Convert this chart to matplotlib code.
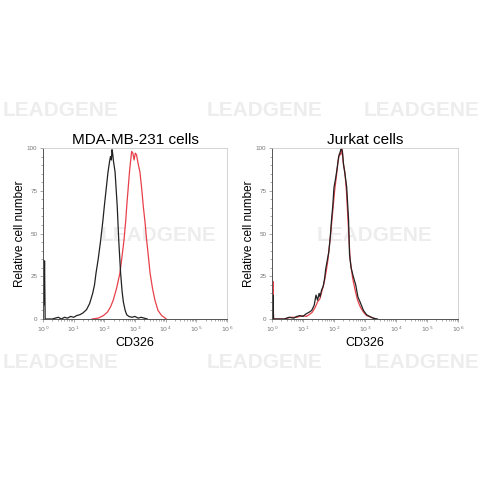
"""Flow cytometry histograms: CD326 staining on MDA-MB-231 and Jurkat cells."""

import numpy as np
import matplotlib
matplotlib.use('Agg')
import matplotlib.pyplot as plt
from matplotlib.ticker import FixedLocator, LogLocator, NullFormatter

plt.rcParams['font.family'] = ['Liberation Sans', 'DejaVu Sans']

# decade positions (log10 of CD326 intensity) and relative cell number
mda_iso_x = [0.0, 0.01, 0.02, 0.03, 0.04, 0.05, 0.07, 0.3, 0.5, 0.6, 0.7, 0.8, 0.9, 1.0,
             1.1, 1.2, 1.3, 1.42, 1.52, 1.62, 1.68, 1.73, 1.8, 1.88, 1.95, 2.0, 2.06,
             2.12, 2.17, 2.2, 2.23, 2.25, 2.27, 2.3, 2.35, 2.42, 2.47, 2.53, 2.58,
             2.62, 2.68, 2.73, 2.8, 2.9, 3.0, 3.1, 3.2, 3.3, 3.4]
mda_iso_y = [0, 35, 8, 32, 20, 34, 0, 0, 1, 0, 1, 0.5, 1.5, 1,
             2, 2.5, 3.5, 5.5, 9, 15, 20, 27, 35, 46, 57, 66, 76,
             86, 92, 95, 93, 99, 97, 92, 86, 66, 46, 27, 16,
             10, 5, 2.5, 1.5, 1, 1.5, 0.5, 1, 0.5, 0]

mda_cd326_x = [1.6, 1.8, 1.97, 2.1, 2.2, 2.29, 2.4, 2.51, 2.58, 2.64, 2.7, 2.73,
               2.78, 2.82, 2.86, 2.89, 2.93, 2.97, 3.01, 3.05, 3.1, 3.16, 3.22,
               3.27, 3.33, 3.38, 3.44, 3.49, 3.57, 3.65, 3.75, 3.87, 3.95, 4.02]
mda_cd326_y = [0, 0.5, 2, 4, 7, 11, 18, 27, 37, 46, 58, 66,
               77, 86, 93, 98, 97, 93, 97, 96, 91, 86, 76,
               66, 56, 46, 36, 27, 18, 11, 5, 2, 1, 0]

jur_iso_x = [0.0, 0.01, 0.02, 0.03, 0.05, 0.4, 0.55, 0.7, 0.8, 0.9, 1.0, 1.1, 1.2,
             1.28, 1.36, 1.42, 1.47, 1.52, 1.55, 1.6, 1.65, 1.7, 1.73, 1.78, 1.83,
             1.88, 1.92, 1.96, 2.0, 2.05, 2.1, 2.15, 2.19, 2.23, 2.27, 2.31, 2.36,
             2.41, 2.47, 2.5, 2.55, 2.62, 2.7, 2.77, 2.84, 2.95, 3.05, 3.15, 3.26, 3.4]
jur_iso_y = [0, 16, 5, 14, 0, 0, 1, 0.5, 1.5, 2, 1.5, 3, 4,
             5, 8, 14, 11, 15, 13, 17, 19, 24, 29, 34, 39,
             48, 58, 66, 77, 82, 88, 95, 97, 100, 98, 90, 84,
             77, 58, 38, 30, 25, 20, 13, 10, 5, 2.5, 1.5, 0.5, 0]

jur_cd326_x = [0.0, 0.01, 0.02, 0.03, 0.05, 0.4, 0.6, 0.8, 1.0, 1.1, 1.2, 1.3,
               1.4, 1.47, 1.55, 1.62, 1.68, 1.74, 1.8, 1.86, 1.92, 1.97, 2.02,
               2.08, 2.13, 2.18, 2.22, 2.26, 2.3, 2.35, 2.4, 2.46, 2.52, 2.6,
               2.68, 2.76, 2.85, 2.95, 3.05, 3.2, 3.35]
jur_cd326_y = [0, 27, 10, 22, 0, 0, 1, 1, 2, 1.5, 2.5, 4,
               7, 10, 12, 17, 21, 27, 34, 44, 55, 65, 75,
               84, 92, 97, 96, 100, 91, 86, 75, 55, 35, 24,
               17, 11, 7, 4, 2, 1, 0]

panels = [
    ('MDA-MB-231 cells', mda_iso_x, mda_iso_y, mda_cd326_x, mda_cd326_y),
    ('Jurkat cells', jur_iso_x, jur_iso_y, jur_cd326_x, jur_cd326_y),
]
axes_boxes = [[43 / 480, 161 / 480, 184 / 480, 171 / 480],
              [272 / 480, 161 / 480, 186 / 480, 171 / 480]]

fig = plt.figure(figsize=(4.8, 4.8), dpi=100)

# faint watermark rows
for (x, y, ha) in [(0.005, 0.77, 'left'), (0.43, 0.77, 'left'), (0.998, 0.77, 'right'),
                   (0.21, 0.51, 'left'), (0.66, 0.51, 'left'),
                   (0.005, 0.245, 'left'), (0.43, 0.245, 'left'), (0.998, 0.245, 'right')]:
    fig.text(x, y, 'LEADGENE', fontsize=15, color='#ededed',
             fontweight='bold', ha=ha, va='center', zorder=-1)

for box, (title, ix, iy, cx, cy) in zip(axes_boxes, panels):
    ax = fig.add_axes(box)
    ax.set_facecolor('none')
    ax.plot(10 ** np.array(cx), cy, color='#e8404a', lw=0.9)
    ax.plot(10 ** np.array(ix), iy, color='#222222', lw=0.9)
    ax.set_xscale('log')
    ax.set_xlim(1, 1e6)
    ax.set_ylim(0, 100)
    ax.set_xticks([10 ** k for k in range(7)])
    ax.set_xticklabels([f'$10^{k}$' for k in range(7)])
    ax.xaxis.set_minor_locator(LogLocator(base=10, subs=np.arange(2, 10)))
    ax.xaxis.set_minor_formatter(NullFormatter())
    ax.set_yticks([0, 25, 50, 75, 100])
    ax.yaxis.set_minor_locator(FixedLocator(np.arange(0, 101, 5)))
    ax.tick_params(which='both', direction='out', colors='#888888',
                   labelsize=4.5, labelcolor='#777777', width=0.5, pad=1.5)
    ax.tick_params(which='major', length=2.5)
    ax.tick_params(which='minor', length=1.5)
    for side in ['left', 'bottom']:
        ax.spines[side].set_color('#555555')
        ax.spines[side].set_linewidth(0.7)
    for side in ['top', 'right']:
        ax.spines[side].set_color('#cccccc')
        ax.spines[side].set_linewidth(0.6)
    ax.set_title(title, fontsize=11, pad=3)
    ax.set_xlabel('CD326', fontsize=9, labelpad=2)
    ax.set_ylabel('Relative cell number', fontsize=8.5, labelpad=1)

fig.savefig('out.png', dpi=100, facecolor='white')
